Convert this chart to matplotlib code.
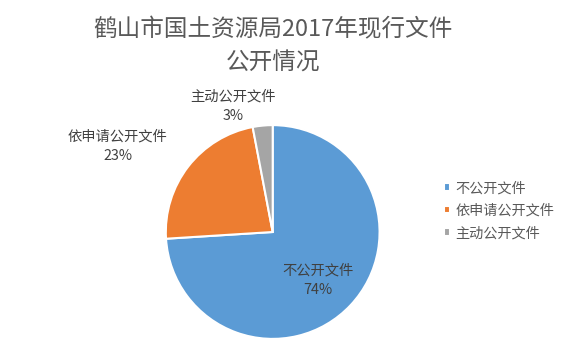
import matplotlib.pyplot as plt

plt.rcParams['font.family'] = ['Noto Sans CJK SC', 'DejaVu Sans']

labels = ['不公开文件', '依申请公开文件', '主动公开文件']
shares = [74, 23, 3]
colors = ['#5B9BD5', '#ED7D31', '#A5A5A5']
# label positions (in pie axes units)
label_pos = [(0.42, -0.45), (-1.45, 0.80), (-0.37, 1.18)]

fig = plt.figure(figsize=(5.64, 3.51), dpi=100, facecolor='white')
ax = fig.add_axes([0.294, 0.034, 0.379, 0.610])
wedges, _ = ax.pie(shares, colors=colors, startangle=90, counterclock=False,
                   wedgeprops=dict(edgecolor='white', linewidth=1.5))
ax.set_xlim(-1, 1)
ax.set_ylim(-1, 1)

for name, v, (x, y) in zip(labels, shares, label_pos):
    ax.text(x, y, f'{name}\n{v}%', ha='center', va='center', fontsize=10.3,
            color='#404040', linespacing=1.5)

fig.text(0.484, 0.915, '鹤山市国土资源局2017年现行文件', ha='center', va='center',
         fontsize=17, color='#595959')
fig.text(0.484, 0.82, '公开情况', ha='center', va='center',
         fontsize=17, color='#595959')

fig.legend(wedges, labels, loc='center left', bbox_to_anchor=(0.765, 0.40),
           frameon=False, fontsize=10.2, handlelength=0.4, handleheight=0.4,
           handletextpad=0.4, labelspacing=0.6, labelcolor='#595959')

fig.savefig('out.png', dpi=100)
